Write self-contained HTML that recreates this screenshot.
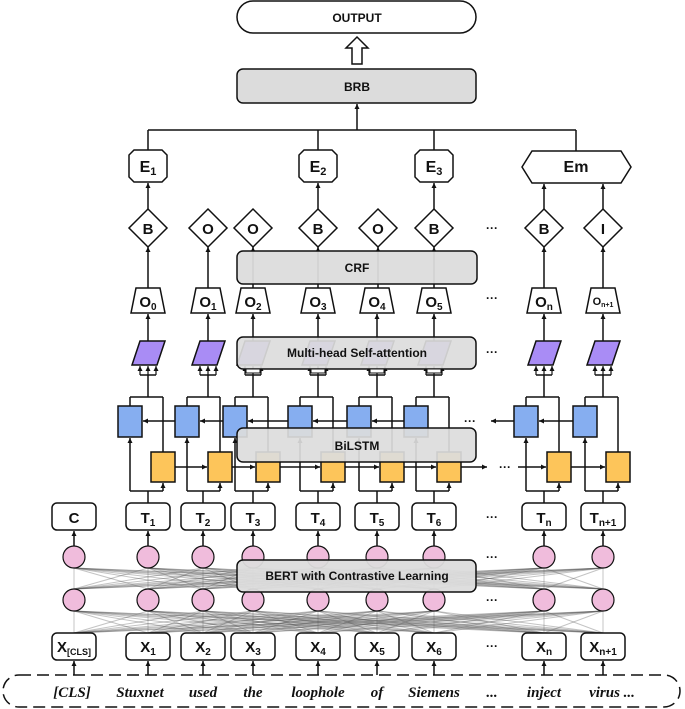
<!DOCTYPE html>
<html><head><meta charset="utf-8"><style>
html,body{margin:0;padding:0;background:#fff;}
svg{display:block;}
text{font-family:"Liberation Sans",sans-serif;font-weight:bold;fill:#111;}
.w{font-family:"Liberation Serif",serif;font-style:italic;font-weight:bold;font-size:15px;}
</style></head><body>
<svg id="s" width="685" height="709" viewBox="0 0 685 709" xmlns="http://www.w3.org/2000/svg">
<defs>
<marker id="a" markerWidth="6" markerHeight="6" refX="5" refY="3" orient="auto" markerUnits="userSpaceOnUse"><path d="M0,0.5 L5,3 L0,5.5z" fill="#111"/></marker>
</defs>
<g id="fan" stroke="#555" stroke-opacity="0.35" stroke-width="1"></g>
<g id="g" stroke="#111" stroke-width="1.5" fill="none"></g>
<g id="top" stroke="#111" stroke-width="1.5"></g>
<g id="t" text-anchor="middle">
<text x="357" y="22" font-size="12">OUTPUT</text>
<text x="357" y="91" font-size="12">BRB</text>
<text x="148" y="172" font-size="16">E<tspan font-size="11" dy="3">1</tspan></text>
<text x="318" y="172" font-size="16">E<tspan font-size="11" dy="3">2</tspan></text>
<text x="434" y="172" font-size="16">E<tspan font-size="11" dy="3">3</tspan></text>
<text x="576" y="172" font-size="16">Em</text>
<text x="148" y="234" font-size="15">B</text>
<text x="208" y="234" font-size="15">O</text>
<text x="253" y="234" font-size="15">O</text>
<text x="318" y="234" font-size="15">B</text>
<text x="378" y="234" font-size="15">O</text>
<text x="434" y="234" font-size="15">B</text>
<text x="544" y="234" font-size="15">B</text>
<text x="603" y="234" font-size="15">I</text>
<text x="357" y="272" font-size="12">CRF</text>
<text x="148" y="307" font-size="15">O<tspan font-size="10" dy="3">0</tspan></text>
<text x="208" y="307" font-size="15">O<tspan font-size="10" dy="3">1</tspan></text>
<text x="253" y="307" font-size="15">O<tspan font-size="10" dy="3">2</tspan></text>
<text x="318" y="307" font-size="15">O<tspan font-size="10" dy="3">3</tspan></text>
<text x="377" y="307" font-size="15">O<tspan font-size="10" dy="3">4</tspan></text>
<text x="434" y="307" font-size="15">O<tspan font-size="10" dy="3">5</tspan></text>
<text x="544" y="307" font-size="15">O<tspan font-size="10" dy="3">n</tspan></text>
<text x="603" y="305" font-size="11">O<tspan font-size="7" dy="2">n+1</tspan></text>
<text x="357" y="357" font-size="12">Multi-head Self-attention</text>
<text x="357" y="450" font-size="12">BiLSTM</text>
<text x="74" y="523" font-size="15">C</text>
<text x="148" y="523" font-size="15">T<tspan font-size="10" dy="3">1</tspan></text>
<text x="203" y="523" font-size="15">T<tspan font-size="10" dy="3">2</tspan></text>
<text x="253" y="523" font-size="15">T<tspan font-size="10" dy="3">3</tspan></text>
<text x="318" y="523" font-size="15">T<tspan font-size="10" dy="3">4</tspan></text>
<text x="377" y="523" font-size="15">T<tspan font-size="10" dy="3">5</tspan></text>
<text x="434" y="523" font-size="15">T<tspan font-size="10" dy="3">6</tspan></text>
<text x="544" y="523" font-size="15">T<tspan font-size="10" dy="3">n</tspan></text>
<text x="603" y="523" font-size="15">T<tspan font-size="10" dy="3">n+1</tspan></text>
<text x="357" y="580" font-size="12">BERT with Contrastive Learning</text>
<text x="74" y="652" font-size="15">X<tspan font-size="9" dy="3">[CLS]</tspan></text>
<text x="148" y="652" font-size="15">X<tspan font-size="10" dy="3">1</tspan></text>
<text x="203" y="652" font-size="15">X<tspan font-size="10" dy="3">2</tspan></text>
<text x="253" y="652" font-size="15">X<tspan font-size="10" dy="3">3</tspan></text>
<text x="318" y="652" font-size="15">X<tspan font-size="10" dy="3">4</tspan></text>
<text x="377" y="652" font-size="15">X<tspan font-size="10" dy="3">5</tspan></text>
<text x="434" y="652" font-size="15">X<tspan font-size="10" dy="3">6</tspan></text>
<text x="544" y="652" font-size="15">X<tspan font-size="10" dy="3">n</tspan></text>
<text x="603" y="652" font-size="15">X<tspan font-size="10" dy="3">n+1</tspan></text>
<text class="w" x="72" y="697">[CLS]</text>
<text class="w" x="140" y="697">Stuxnet</text>
<text class="w" x="203" y="697">used</text>
<text class="w" x="253" y="697">the</text>
<text class="w" x="318" y="697">loophole</text>
<text class="w" x="377" y="697">of</text>
<text class="w" x="434" y="697">Siemens</text>
<text class="w" x="492" y="697">...</text>
<text class="w" x="544" y="697">inject</text>
<text class="w" x="612" y="697">virus ...</text>
<text x="492" y="232" font-size="12">···</text>
<text x="492" y="302" font-size="12">···</text>
<text x="492" y="356" font-size="12">···</text>
<text x="470" y="425" font-size="12">···</text>
<text x="505" y="471" font-size="12">···</text>
<text x="492" y="521" font-size="12">···</text>
<text x="492" y="561" font-size="12">···</text>
<text x="492" y="604" font-size="12">···</text>
<text x="492" y="650" font-size="12">···</text>
</g>
</svg>
<script>
var NS="http://www.w3.org/2000/svg";
function el(p,tag,at){var e=document.createElementNS(NS,tag);for(var k in at)e.setAttribute(k,at[k]);document.getElementById(p).appendChild(e);return e;}
function ln(p,x1,y1,x2,y2,arr,extra){var a={x1:x1,y1:y1,x2:x2,y2:y2};if(arr)a["marker-end"]="url(#a)";if(extra)for(var k in extra)a[k]=extra[k];return el(p,"line",a);}
var all=[74,148,203,253,318,377,434,544,603];
var C=all.slice(1);
var U=[148,208,253,318,377,434,544,603];
for(var i=0;i<9;i++)for(var j=0;j<9;j++){ln("fan",all[i],568,all[j],589);ln("fan",all[i],633,all[j],611);}
var g="g";
el(g,"rect",{x:3,y:675,width:677,height:32,rx:16,"stroke-dasharray":"12,6"});
all.forEach(function(x){
 ln(g,x,675,x,661,1);
 el(g,"rect",{x:x-22,y:633,width:44,height:27,rx:5,fill:"#fff"});
 el(g,"rect",{x:x-22,y:503,width:44,height:27,rx:5,fill:"#fff"});
 ln(g,x,546,x,531,1);
 el(g,"circle",{cx:x,cy:600,r:11,fill:"#f0bcdc","stroke-width":1.2});
 el(g,"circle",{cx:x,cy:557,r:11,fill:"#f0bcdc","stroke-width":1.2});
});
C.forEach(function(x0,k){
 var x=U[k];
 var bx=(k==1?187:x0-18),yx=(k==1?220:x0+15);
 ln(g,x0,503,x0,491);ln(g,bx,491,yx,491);
 ln(g,bx,491,bx,438,1);ln(g,yx,491,yx,483,1);
 ln(g,bx,406,bx,397);ln(g,yx,452,yx,397);ln(g,bx,397,yx,397);
 ln(g,x,397,x,375);ln(g,x-8,375,x+8,375);
 [x-8,x,x+8].forEach(function(q){ln(g,q,375,q,366,1,{"stroke-width":1.2});});
 el(g,"rect",{x:bx-12,y:406,width:24,height:31,fill:"#86aef0"});
 el(g,"rect",{x:yx-12,y:452,width:24,height:30,fill:"#fdc55a"});
 el(g,"polygon",{points:(x-8)+",341 "+(x+17)+",341 "+(x+9)+",365 "+(x-16)+",365",fill:"#a98cf5"});
 ln(g,x,341,x,314,1);
 el(g,"polygon",{points:(x-12)+",288 "+(x+12)+",288 "+(x+17)+",313 "+(x-17)+",313",fill:"#fff"});
});
var bl=[130,187,235,300,359,416,526,585],yl=[163,220,268,333,392,449,559,618];
for(var k=1;k<6;k++){ln(g,bl[k]-12,421,bl[k-1]+13,421,1);ln(g,yl[k-1]+12,467,yl[k]-13,467,1);}
ln(g,bl[6]-12,421,491,421,1);ln(g,bl[7]-12,421,bl[6]+13,421,1);
ln(g,yl[5]+12,467,487,467,1);ln(g,518,467,yl[6]-13,467,1);ln(g,yl[6]+12,467,yl[7]-13,467,1);
var dx=[148,208,253,318,378,434,544,603];
dx.forEach(function(x,k){
 ln(g,x,288,x,247,1);
 el(g,"polygon",{points:x+",209 "+(x+19)+",228 "+x+",247 "+(x-19)+",228",fill:"#fff"});
});
[148,318,434].forEach(function(x){
 ln(g,x,209,x,183,1);
 el(g,"polygon",{points:(x-14)+",150 "+(x+14)+",150 "+(x+19)+",155 "+(x+19)+",177 "+(x+14)+",182 "+(x-14)+",182 "+(x-19)+",177 "+(x-19)+",155",fill:"#fff"});
 ln(g,x,150,x,130);
});
ln(g,544,209,544,184,1);ln(g,603,209,603,184,1);
el(g,"polygon",{points:"522,167 532,151 621,151 631,167 621,183 532,183",fill:"#fff"});
ln(g,576,151,576,130);ln(g,148,130,576,130);ln(g,357,130,357,104,1);
function box(x,y,w,h,op){el("top","rect",{x:x,y:y,width:w,height:h,rx:6,fill:"#dcdcdc","fill-opacity":op});}
box(237,560,239,32,0.95);box(237,428,239,34,0.92);box(237,337,239,32,0.92);box(237,251,240,33,0.95);
box(237,69,239,34,1);
el("top","rect",{x:237,y:1,width:239,height:32,rx:16,fill:"#fff"});
el("top","polygon",{points:"357,37 368,48 362,48 362,64 352,64 352,48 346,48",fill:"#fff"});
U.slice(2,6).forEach(function(x){el("top","rect",{x:x-7,y:369,width:14,height:4,fill:"#fff","stroke-width":1});});
</script>
</body></html>
